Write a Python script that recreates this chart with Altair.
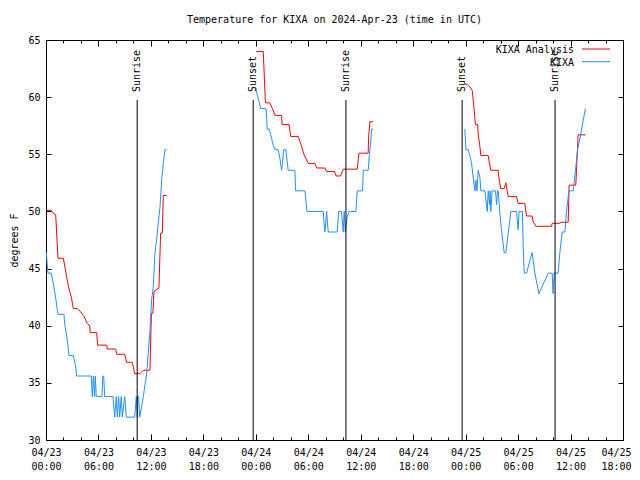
import altair as alt
import pandas as pd

# ---------------- data (hours after 2024-04-23 00:00 UTC, deg F) ----------------
red_h1 = [0.08, 0.6, 0.86, 1.11, 1.37, 1.98, 2.2, 2.45, 2.7, 2.9, 3.12, 3.58, 3.96, 4.35, 4.72,
          5.0, 5.06, 5.8, 5.9, 6.94, 7.0, 7.97, 8.08, 9.0, 9.22, 9.87, 10.14, 10.75, 11.13, 11.89,
          12.06, 12.23, 12.35, 12.92, 13.11, 13.3, 13.42, 13.8]
red_t1 = [50.1, 50.1, 49.8, 49.7, 45.9, 45.9, 45.0, 43.9, 43.0, 42.5, 41.5, 41.5, 41.2, 40.8, 40.2,
          40.0, 39.4, 39.4, 38.3, 38.3, 37.96, 37.96, 37.5, 37.5, 36.8, 36.8, 35.8, 35.8, 36.1, 36.1,
          41.1, 41.1, 43.0, 43.3, 48.1, 48.1, 51.4, 51.4]
red_h2 = [24.01, 24.85, 25.1, 25.6, 25.9, 26.2, 26.95, 27.0, 27.8, 28.0, 28.85, 29.2, 29.5, 30.0,
          30.76, 30.95, 31.9, 32.1, 33.0, 33.2, 33.7, 34.0, 35.6, 35.8, 36.85, 36.9, 37.05, 37.4]
red_t2 = [64.0, 64.0, 59.5, 59.5, 59.0, 58.4, 58.4, 57.6, 57.6, 56.55, 56.55, 55.8, 55.0, 54.2,
          54.2, 53.8, 53.8, 53.5, 53.5, 53.1, 53.1, 53.7, 53.7, 55.1, 55.1, 56.5, 57.85, 57.85]
red_h3 = [47.91, 48.22, 48.48, 48.75, 48.86, 48.98, 49.06, 49.14, 49.37, 49.43, 49.63, 49.74, 50.58,
          50.66, 50.88, 51.72, 51.8, 52.0, 52.41, 52.6, 52.87, 53.82, 54.0, 54.77, 54.97, 55.6,
          55.72, 56.03, 57.83, 57.9, 58.78, 58.9, 59.73, 59.84, 60.6, 60.87, 61.72]
red_t3 = [61.15, 61.1, 60.9, 60.6, 59.75, 58.9, 58.0, 57.6, 57.6, 56.8, 55.7, 54.9, 54.9,
          54.5, 53.6, 53.6, 53.0, 52.0, 52.0, 52.5, 51.3, 51.3, 50.7, 50.7, 49.6, 49.6,
          49.1, 48.7, 48.7, 48.96, 48.96, 49.05, 49.05, 52.3, 52.3, 56.7, 56.7]

blue_h1 = [0.05, 0.12, 0.23, 0.6, 0.83, 1.1, 1.29, 1.37, 2.06, 2.13, 2.44, 2.63, 3.12, 3.2, 3.4,
           3.5, 5.18, 5.3, 5.42, 5.55, 5.64, 5.75, 6.4, 6.5, 6.6, 6.71, 7.66, 7.85, 8.04, 8.15,
           8.31, 8.42, 8.61, 8.73, 9.0, 9.19, 10.14, 10.33, 10.44, 10.52, 10.6, 10.71, 10.94,
           11.13, 11.51, 11.7, 11.89, 12.08, 12.27, 12.46, 12.65, 12.84, 13.04, 13.23, 13.42,
           13.6, 13.8]
blue_t1 = [46.4, 45.5, 44.6, 44.6, 43.7, 42.5, 41.4, 41.0, 41.0, 40.2, 38.75, 37.4, 37.4, 37.1, 36.4,
           35.6, 35.6, 33.8, 35.6, 33.8, 35.6, 33.8, 33.8, 35.6, 35.6, 33.8, 33.8, 32.0, 33.8, 32.0,
           33.8, 32.0, 33.8, 32.0, 33.8, 32.0, 32.0, 33.8, 32.0, 33.8, 33.8, 32.0, 32.9,
           33.8, 35.8, 37.6, 39.6, 42.25, 43.4, 46.3, 47.5, 48.96, 50.4, 52.75, 54.2,
           55.4, 55.4]
blue_h2 = [24.01, 24.16, 24.39, 24.55, 25.16, 25.24, 25.3, 25.54, 25.6, 25.8, 25.99, 26.19, 26.56,
           26.75, 26.95, 27.2, 27.44, 27.7, 28.47, 28.55, 29.62, 29.85, 31.71, 31.79, 31.9, 32.1,
           32.28, 33.31, 33.47, 33.81, 34.0, 34.11, 34.23, 34.45, 34.68, 35.45, 35.6, 36.21,
           36.29, 36.86, 36.97, 37.13, 37.24, 37.43]
blue_t2 = [60.8, 60.2, 59.6, 59.0, 59.0, 58.15, 57.2, 57.2, 57.0, 56.4, 55.8, 55.4, 55.4,
           54.65, 53.6, 55.4, 55.4, 53.6, 53.6, 51.8, 51.8, 50.0, 50.0, 49.1, 48.2, 50.0,
           48.2, 48.2, 50.0, 50.0, 48.2, 50.0, 48.2, 49.5, 50.0, 50.0, 51.8, 51.8,
           53.6, 53.6, 54.8, 56.0, 57.2, 57.2]
blue_h3 = [47.91, 48.03, 48.29, 48.48, 48.68, 48.86, 49.06, 49.17, 49.29, 49.44, 49.63, 49.74, 50.2,
           50.47, 50.58, 50.74, 50.81, 50.88, 51.04, 51.42, 51.54, 51.65, 51.72, 51.92, 52.1, 52.3,
           52.41, 52.6, 52.68, 52.87, 53.06, 53.17, 53.82, 54.0, 54.12, 54.5, 54.58, 54.7, 54.97,
           55.6, 55.92, 56.38, 57.44, 57.9, 58.0, 58.13, 58.58, 58.78, 59.04, 59.35, 59.54,
           59.81, 60.3, 60.57, 60.8, 61.18, 61.45, 61.72]
blue_t3 = [57.2, 55.4, 55.4, 54.9, 54.2, 53.0, 51.8, 52.75, 51.8, 53.6, 53.0, 51.8, 51.8,
           50.0, 51.8, 50.6, 51.8, 50.0, 51.8, 51.8, 50.6, 51.8, 51.8, 49.8, 48.4, 47.1,
           46.4, 46.4, 46.9, 48.1, 49.25, 50.0, 50.0, 48.4, 50.0, 50.0, 47.0, 44.6, 44.6,
           46.4, 44.6, 42.8, 44.6, 44.6, 42.8, 44.6, 44.6, 46.4, 48.2, 48.2, 50.0,
           51.8, 51.8, 53.6, 55.4, 56.8, 58.0, 59.0]

event_hours = [10.43, 23.7, 34.31, 47.6, 58.23]
event_labels = ["Sunrise", "Sunset", "Sunrise", "Sunset", "Sunrise"]
event_top = 59.75
event_text_y = 60.45

series_names = ["KIXA Analysis", "KIXA"]
series_colors = ["#ff0000", "#1e90ff"]

label_hours = list(range(0, 67, 6))
tick_hours = list(range(0, 67, 2))
y_ticks = [30, 35, 40, 45, 50, 55, 60, 65]

title_text = "Temperature for KIXA on 2024-Apr-23 (time in UTC)"
y_title = "degrees F"

# ---------------- build tables ----------------
START = pd.Timestamp("2024-04-23T00:00:00Z")


def iso(h):
    return (START + pd.Timedelta(hours=h)).strftime("%Y-%m-%dT%H:%M:%SZ")


def ms(h):
    return int(START.value // 10**6 + round(h * 3600000))


rows = []
for name, hs, ts in [
    ("KIXA Analysis", [red_h1, red_h2, red_h3], [red_t1, red_t2, red_t3]),
    ("KIXA", [blue_h1, blue_h2, blue_h3], [blue_t1, blue_t2, blue_t3]),
]:
    for k, (hh, tt) in enumerate(zip(hs, ts)):
        for h, t in zip(hh, tt):
            rows.append({"series": name, "seg": f"{name}-{k}", "time": iso(h), "temp": t})
df = pd.DataFrame(rows)
df_red = df[df.series == "KIXA Analysis"]
df_blue = df[df.series == "KIXA"]

ev = pd.DataFrame({
    "time": [iso(h) for h in event_hours],
    "label": event_labels,
    "top": [event_top] * len(event_hours),
    "bottom": [30] * len(event_hours),
    "ty": [event_text_y] * len(event_hours),
})

# ---------------- chart ----------------
W, H = 577, 400
FONT = "DejaVu Sans Mono"
xscale = alt.Scale(type="utc", domain=[ms(0), ms(66)])
yscale = alt.Scale(domain=[30, 65], nice=False, zero=False)
tick_cond = {"condition": {"test": "utchours(datum.value) % 6 === 0", "value": 6}, "value": 3}
last_label = ms(label_hours[-1])

x_lab = alt.Axis(orient="bottom", values=[ms(h) for h in label_hours],
                 labelExpr="[utcFormat(datum.value, '%m/%d'), utcFormat(datum.value, '%H:%M')]",
                 ticks=False, domain=False, grid=False, title=None, labelPadding=7,
                 labelLineHeight=14, labelBaseline="top", labelFlush=False, labelOverlap=False,
                 labelOffset={"condition": {"test": f"datum.value >= {last_label}", "value": -7},
                              "value": 0})
x_in_bottom = alt.Axis(orient="top", offset=-H, values=[ms(h) for h in tick_hours], labels=False,
                       domain=False, grid=False, title=None, tickSize=tick_cond)
x_in_top = alt.Axis(orient="bottom", offset=-H, values=[ms(h) for h in tick_hours], labels=False,
                    domain=False, grid=False, title=None, tickSize=tick_cond)
y_lab = alt.Axis(orient="left", values=y_ticks, ticks=False, domain=False, grid=False,
                 title=y_title, titleX=-32, titleY=H / 2, titleAngle=270, titleAlign="center",
                 titleBaseline="middle", labelPadding=6)
y_in_left = alt.Axis(orient="right", offset=-W, values=y_ticks, labels=False, domain=False,
                     grid=False, title=None, tickSize=5)
y_in_right = alt.Axis(orient="left", offset=-W, values=y_ticks, labels=False, domain=False,
                      grid=False, title=None, tickSize=5)

color = alt.Color("series:N", scale=alt.Scale(domain=series_names, range=series_colors), legend=None)

red = alt.Chart(df_red).mark_line(strokeWidth=1).encode(
    x=alt.X("time:T", scale=xscale, axis=x_lab),
    y=alt.Y("temp:Q", scale=yscale, axis=y_lab),
    color=color, detail="seg:N")
blue = alt.Chart(df_blue).mark_line(strokeWidth=1).encode(
    x=alt.X("time:T", scale=xscale, axis=None),
    y=alt.Y("temp:Q", scale=yscale, axis=None),
    color=color, detail="seg:N")

rules = alt.Chart(ev).mark_rule(color="black", strokeWidth=1).encode(
    x=alt.X("time:T", scale=xscale, axis=x_in_bottom),
    y=alt.Y("top:Q", scale=yscale, axis=y_in_left),
    y2="bottom:Q")
texts = alt.Chart(ev).mark_text(angle=270, align="left", baseline="middle", font=FONT,
                                fontSize=10, color="black").encode(
    x=alt.X("time:T", scale=xscale, axis=x_in_top),
    y=alt.Y("ty:Q", scale=yscale, axis=y_in_right),
    text="label:N")

legend_layers = []
for i, (name, col) in enumerate(zip(series_names, series_colors)):
    one = pd.DataFrame({"label": [name]})
    ypix = 10 + 12.7 * i
    legend_layers.append(alt.Chart(one).mark_text(align="right", baseline="middle", font=FONT,
                                                   fontSize=10, color="black").encode(
        x=alt.value(528), y=alt.value(ypix), text="label:N"))
    legend_layers.append(alt.Chart(one).mark_rule(color=col, strokeWidth=1).encode(
        x=alt.value(536), x2=alt.value(564), y=alt.value(ypix - 1)))

chart = alt.layer(red, blue, rules, texts, *legend_layers).resolve_axis(
    x="independent", y="independent"
).properties(
    width=W, height=H,
    title=alt.TitleParams(text=title_text, font=FONT, fontSize=10, fontWeight="normal",
                          color="black", anchor="middle", frame="group", offset=0,
                          baseline="bottom"),
    autosize=alt.AutoSizeParams(type="none"),
    padding={"left": 38, "top": 32, "right": 9, "bottom": 30},
    background="white",
).configure_view(stroke="black", strokeWidth=1).configure_axis(
    labelFont=FONT, labelFontSize=10, labelColor="black", titleFont=FONT, titleFontSize=10,
    titleFontWeight="normal", titleColor="black", tickColor="black", tickWidth=1)

chart.save("out.html", embed_options={"renderer": "svg", "actions": False})
